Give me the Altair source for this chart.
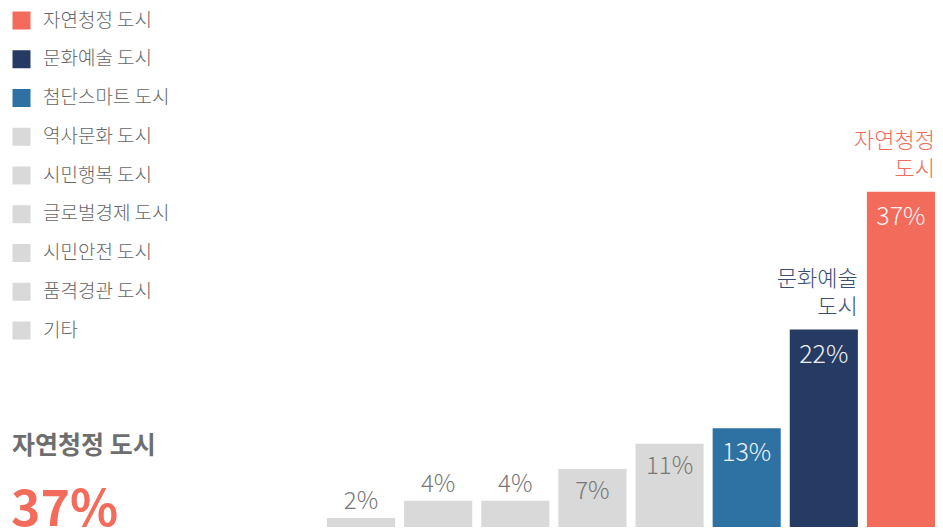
import altair as alt
import pandas as pd

categories = ["자연청정 도시", "문화예술 도시", "첨단스마트 도시", "역사문화 도시",
              "시민행복 도시", "글로벌경제 도시", "시민안전 도시", "품격경관 도시", "기타"]
# printed percentages
labels = ["37%", "22%", "13%", "11%", "7%", "4%", "4%", "2%", "0%"]
# bar heights as drawn in the picture (in % units)
heights = [37.0, 21.8, 10.9, 9.2, 6.4, 2.9, 2.9, 1.0, 0]
callouts = ["자연청정\n도시", "문화예술\n도시", "", "", "", "", "", "", ""]
palette = ["#F26B5B", "#253B63", "#2E71A3", "#D9D9D9", "#D9D9D9",
           "#D9D9D9", "#D9D9D9", "#D9D9D9", "#D9D9D9"]

df = pd.DataFrame({"cat": categories, "value": heights, "label": labels,
                   "callout": callouts})
df["rank"] = range(len(df))

FONT = "Noto Sans CJK KR"
bar_order = list(reversed(categories[:-1]))

base = alt.Chart(df).transform_filter("datum.value > 0")

x = alt.X("cat:N", sort=bar_order, axis=None,
          scale=alt.Scale(domain=bar_order, range=[319, 927],
                          paddingInner=0.117, paddingOuter=0))
y = alt.Y("value:Q", axis=None, scale=alt.Scale(domain=[0, 57.3], nice=False))

bars = base.mark_bar().encode(
    x=x, y=y,
    color=alt.Color("cat:N", scale=alt.Scale(domain=categories, range=palette),
                    legend=alt.Legend(title=None, orient="none", legendX=4, legendY=3,
                                      symbolType="square", symbolSize=324,
                                      symbolStrokeWidth=0, symbolOpacity=1,
                                      labelFont=FONT, labelFontSize=19,
                                      labelFontWeight=300, labelColor="#666666",
                                      labelOffset=12, rowPadding=18.75, padding=0,
                                      labelLimit=300)),
)

outside = base.transform_filter("datum.value < 5").mark_text(
    font=FONT, fontSize=24, fontWeight=300, baseline="alphabetic", dy=-9,
    color="#777777").encode(x=x, y=y, text="label:N")

inside_gray = base.transform_filter("datum.value >= 5 && datum.rank > 2").mark_text(
    font=FONT, fontSize=24, fontWeight=300, baseline="alphabetic", dy=30,
    color="#777777").encode(x=x, y=y, text="label:N")

inside_col = base.transform_filter("datum.rank <= 2").mark_text(
    font=FONT, fontSize=25, fontWeight=300, baseline="alphabetic", dy=33,
    color="#FFFFFF", opacity=0.92).encode(x=x, y=y, text="label:N")

names = base.transform_filter("datum.callout != ''").mark_text(
    font=FONT, fontSize=22, fontWeight=300, baseline="bottom", align="right",
    dx=34, dy=-39, lineBreak="\n", lineHeight=28).encode(
    x=x, y=y, text="callout:N",
    color=alt.condition("datum.rank == 0", alt.value("#F26B5B"), alt.value("#3A4D74")))

top = alt.Chart(df).transform_filter("datum.rank == 0")
big_name = top.mark_text(font=FONT, fontSize=25, fontWeight="bold", align="left",
                         baseline="alphabetic", color="#6E6E6E").encode(
    x=alt.value(4), y=alt.value(446), text="cat:N")
big_val = top.mark_text(font=FONT, fontSize=50, fontWeight="bold", align="left",
                        baseline="alphabetic", color="#F26B5B").encode(
    x=alt.value(3), y=alt.value(518), text="label:N")

chart = alt.layer(bars, outside, inside_gray, inside_col, names, big_name, big_val).properties(
    width=927, height=519, padding=0, autosize=alt.AutoSizeParams(type="none")
).configure_view(stroke=None)

chart.save("out.html", embed_options={"renderer": "svg", "actions": False})
